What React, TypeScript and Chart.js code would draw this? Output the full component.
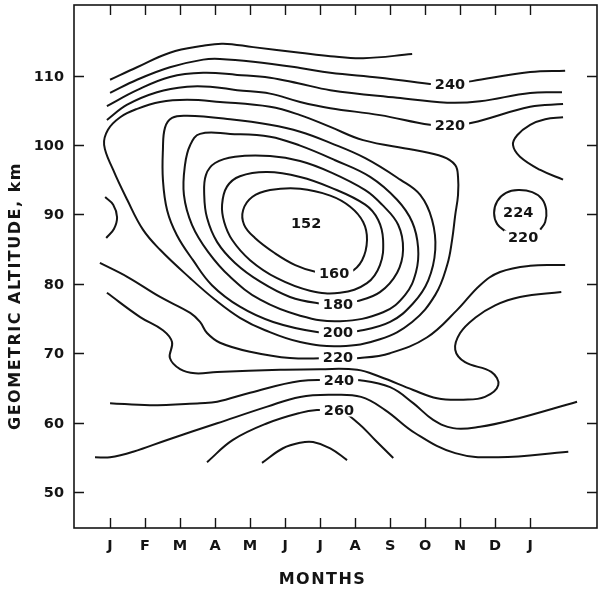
import React, { useEffect, useRef } from 'react';
import { Chart, registerables } from 'chart.js';

Chart.register(...registerables);

type Pt = [number, number];

// ---- axes ----
const MONTH_LABELS = ['J', 'F', 'M', 'A', 'M', 'J', 'J', 'A', 'S', 'O', 'N', 'D', 'J'];
const ALT_TICKS = [50, 60, 70, 80, 90, 100, 110];
const X_MIN = -1.03;
const X_MAX = 13.91;
const Y_MIN = 44.81;
const Y_MAX = 120.17;

// ---- contour lines: [month index, altitude km] ----
const T_TOP_A: Pt[] = [[0, 109.4], [0.77, 111.2], [1.71, 113.3], [2.66, 114.3], [3.23, 114.6], [4.09, 114.1], [5.43, 113.3], [6.29, 112.8], [7.23, 112.5], [8.63, 113.1]];
const T240_TOP: Pt[] = [[0, 107.5], [0.77, 109.4], [1.71, 111.2], [2.66, 112.3], [3.14, 112.4], [4.09, 112.0], [5.43, 111.1], [6.29, 110.4], [7.71, 109.7], [9.14, 108.8], [9.71, 108.7], [10.34, 109.2], [12.0, 110.5], [13.0, 110.7]];
const T_TOP_C: Pt[] = [[-0.09, 105.6], [0.77, 107.9], [1.71, 109.8], [2.66, 110.4], [3.63, 110.1], [4.57, 109.7], [5.37, 108.9], [6.29, 107.9], [8.2, 106.8], [9.63, 106.1], [10.57, 106.3], [12.0, 107.5], [12.91, 107.6]];
const T220_TOP: Pt[] = [[-0.09, 103.6], [0.49, 105.8], [1.34, 107.6], [2.2, 108.4], [2.86, 108.4], [3.63, 107.9], [4.57, 107.4], [5.43, 106.2], [6.29, 105.3], [7.71, 104.3], [9.14, 102.9], [9.71, 102.8], [10.34, 103.2], [12.0, 105.5], [12.94, 105.9]];
const T_RIGHT_TOP: Pt[] = [[12.94, 104.0], [12.43, 103.7], [12.0, 102.9], [11.63, 101.4], [11.51, 100.0], [11.71, 98.3], [12.29, 96.4], [12.94, 95.0]];
const T220_RIGHT: Pt[] = [[11.31, 87.5], [11.06, 88.6], [10.97, 90.2], [11.06, 91.9], [11.31, 93.1], [11.66, 93.5], [12.06, 93.2], [12.34, 92.2], [12.46, 90.6], [12.43, 88.9], [12.29, 87.8]];
const T_LEFT_ARC: Pt[] = [[-0.14, 92.5], [0.09, 91.4], [0.2, 89.6], [0.11, 87.9], [-0.11, 86.6]];
const T220_LOW: Pt[] = [[-0.29, 83.0], [0.49, 81.0], [1.43, 78.1], [2.29, 75.8], [2.57, 74.5], [2.77, 72.9], [3.14, 71.5], [4.0, 70.2], [5.14, 69.3], [6.51, 69.3], [7.14, 69.3], [8.0, 70.0], [9.06, 72.3], [9.91, 76.2], [10.57, 79.8], [11.14, 81.7], [12.0, 82.6], [13.0, 82.7]];
const T230_LOW: Pt[] = [[-0.09, 78.7], [0.86, 75.2], [1.51, 73.3], [1.77, 71.6], [1.71, 69.3], [2.0, 67.7], [2.43, 67.1], [3.06, 67.3], [4.86, 67.6], [6.0, 67.7], [7.06, 67.6], [7.71, 66.6], [8.66, 64.7], [9.34, 63.5], [10.09, 63.3], [10.71, 63.7], [11.09, 65.4], [10.89, 67.3], [10.14, 68.7], [9.86, 70.5], [10.0, 72.9], [10.43, 75.1], [11.0, 76.9], [11.71, 78.1], [12.89, 78.8]];
const T240_LOW: Pt[] = [[0, 62.8], [1.14, 62.5], [2.57, 62.8], [3.06, 63.0], [4.0, 64.3], [5.43, 66.0], [6.54, 66.1], [7.14, 66.1], [8.0, 65.1], [8.66, 62.8], [9.23, 60.4], [9.8, 59.2], [10.57, 59.4], [11.51, 60.4], [13.34, 63.0]];
const T250_LOW: Pt[] = [[-0.43, 55.0], [0, 55.0], [0.66, 55.8], [1.63, 57.5], [3.06, 59.9], [4.49, 62.3], [5.43, 63.7], [6.31, 64.0], [7.17, 63.7], [7.86, 61.8], [8.71, 58.5], [9.86, 55.6], [11.09, 55.0], [13.09, 55.8]];
const T260_LOW: Pt[] = [[2.77, 54.3], [3.51, 57.5], [4.49, 59.9], [5.43, 61.4], [5.91, 61.8], [6.54, 61.8], [7.09, 59.9], [7.57, 57.5], [8.09, 54.9]];
const T270_DOME: Pt[] = [[4.34, 54.2], [4.94, 56.3], [5.43, 57.1], [5.8, 57.2], [6.29, 56.3], [6.77, 54.6]];

// closed loops around the 152 K minimum
const T210_LOOP: Pt[] = [[-0.17, 100.0], [-0.06, 102.2], [0.29, 104.0], [0.77, 105.2], [1.43, 106.2], [2.2, 106.5], [3.14, 106.2], [4.57, 105.5], [5.43, 104.3], [6.29, 102.6], [7.23, 100.7], [8.66, 99.3], [9.51, 98.3], [9.86, 97.1], [9.94, 95.4], [9.94, 92.8], [9.86, 89.9], [9.77, 86.3], [9.63, 82.7], [9.29, 78.4], [8.63, 74.5], [7.71, 72.0], [6.57, 71.0], [5.43, 71.6], [4.43, 73.3], [3.71, 75.1], [3.0, 77.7], [2.29, 80.8], [1.43, 84.9], [0.94, 87.8], [0.49, 92.1], [0.09, 96.4]];
const T200_LOOP: Pt[] = [[6.51, 73.05], [7.09, 73.2], [8.0, 74.5], [8.66, 77.2], [9.09, 80.5], [9.29, 84.9], [9.2, 89.2], [8.86, 92.8], [8.29, 95.0], [7.29, 98.1], [6.29, 100.3], [5.43, 101.9], [4.57, 102.9], [3.43, 103.7], [2.2, 104.2], [1.77, 103.9], [1.57, 102.5], [1.51, 99.3], [1.51, 95.0], [1.63, 90.6], [1.91, 87.0], [2.37, 83.4], [2.91, 79.8], [3.71, 76.7], [4.66, 74.5], [5.91, 73.05]];
const T190_LOOP: Pt[] = [[6.57, 74.6], [7.8, 75.9], [8.43, 78.4], [8.74, 81.7], [8.8, 85.2], [8.63, 88.9], [8.2, 92.1], [7.43, 95.4], [6.43, 97.8], [5.43, 99.9], [4.57, 101.2], [3.43, 101.6], [2.57, 101.6], [2.29, 100.0], [2.14, 97.1], [2.11, 92.8], [2.34, 88.5], [2.8, 84.6], [3.43, 81.0], [4.29, 77.7], [5.43, 75.4]];
const T180_LOOP: Pt[] = [[6.51, 77.1], [7.06, 77.5], [7.71, 78.8], [8.2, 81.6], [8.37, 84.9], [8.23, 88.5], [7.77, 91.4], [7.29, 93.5], [6.29, 96.1], [5.43, 97.7], [4.57, 98.4], [3.57, 98.3], [3.0, 97.4], [2.74, 95.7], [2.69, 92.8], [2.77, 89.5], [3.06, 86.0], [3.57, 83.0], [4.29, 80.3], [5.14, 78.1], [5.94, 77.2]];
const T170_LOOP: Pt[] = [[6.57, 78.7], [7.34, 80.1], [7.71, 82.7], [7.8, 86.3], [7.66, 89.2], [7.29, 91.4], [6.29, 93.9], [5.43, 95.4], [4.49, 96.1], [3.71, 95.5], [3.34, 94.0], [3.2, 91.4], [3.26, 88.9], [3.49, 86.3], [4.0, 83.4], [4.77, 80.8], [5.71, 79.0]];
const T160_LOOP: Pt[] = [[6.4, 81.55], [6.86, 81.7], [7.2, 83.4], [7.34, 86.3], [7.23, 88.9], [6.86, 91.1], [6.29, 92.7], [5.43, 93.7], [4.57, 93.5], [4.06, 92.5], [3.8, 90.6], [3.83, 88.5], [4.14, 86.6], [4.71, 84.4], [5.29, 82.7], [5.89, 81.7]];

// ---- contour labels ----
const LABEL_TEXT = ['240', '220', '152', '160', '180', '200', '220', '240', '260', '224', '220'];
const LABEL_MONTH = [9.71, 9.71, 5.6, 6.4, 6.51, 6.51, 6.51, 6.54, 6.54, 11.66, 11.8];
const LABEL_ALT = [108.8, 102.9, 88.8, 81.6, 77.1, 73.05, 69.45, 66.14, 61.81, 90.34, 86.74];

const OPEN_LINES: Pt[][] = [T_TOP_A, T240_TOP, T_TOP_C, T220_TOP, T_RIGHT_TOP, T220_RIGHT, T_LEFT_ARC, T220_LOW, T230_LOW, T240_LOW, T250_LOW, T260_LOW, T270_DOME];
const CLOSED_LOOPS: Pt[][] = [T210_LOOP, T200_LOOP, T190_LOOP, T180_LOOP, T170_LOOP, T160_LOOP];

const INK = '#141414';
const LINE_W = 2;
const FONT = '"DejaVu Sans", "Liberation Sans", Arial, sans-serif';

function openDataset(pts: Pt[]) {
  return {
    data: pts.map(([x, y]) => ({ x, y })),
    showLine: true,
    borderColor: INK,
    borderWidth: LINE_W,
    pointRadius: 0,
    tension: 0.4,
    fill: false,
  };
}

function loopDataset(pts: Pt[]) {
  const n = pts.length;
  const ext = [pts[n - 1], ...pts, pts[0], pts[1]];
  const last = ext.length - 1;
  return {
    data: ext.map(([x, y]) => ({ x, y })),
    showLine: true,
    borderColor: INK,
    borderWidth: LINE_W,
    pointRadius: 0,
    tension: 0.4,
    fill: false,
    segment: {
      borderColor: (c: any) => (c.p0DataIndex === 0 || c.p1DataIndex === last ? 'rgba(0,0,0,0)' : INK),
    },
  };
}

const decor = {
  id: 'decor',
  afterDatasetsDraw(chart: any) {
    const { ctx, scales } = chart;
    const xs = scales.x;
    const ys = scales.y;
    ctx.save();
    ctx.font = `bold 14.5px ${FONT}`;
    ctx.textAlign = 'center';
    ctx.textBaseline = 'alphabetic';
    LABEL_TEXT.forEach((t, i) => {
      const px = xs.getPixelForValue(LABEL_MONTH[i]);
      const py = ys.getPixelForValue(LABEL_ALT[i]);
      const w = ctx.measureText(t).width;
      ctx.fillStyle = '#ffffff';
      ctx.fillRect(px - w / 2 - 4, py - 6.5, w + 8, 13);
      ctx.fillStyle = INK;
      ctx.fillText(t, px, py + 5);
    });
    ctx.restore();
  },
  afterDraw(chart: any) {
    const { ctx, chartArea, scales } = chart;
    const { left, right, top, bottom } = chartArea;
    const xs = scales.x;
    const ys = scales.y;
    ctx.save();
    ctx.strokeStyle = INK;
    ctx.lineWidth = 1.6;
    ctx.strokeRect(left, top, right - left, bottom - top);
    ctx.lineWidth = 1.4;
    ctx.beginPath();
    MONTH_LABELS.forEach((_, i) => {
      const px = Math.round(xs.getPixelForValue(i)) + 0.5;
      ctx.moveTo(px, bottom);
      ctx.lineTo(px, bottom - 10);
      ctx.moveTo(px, top);
      ctx.lineTo(px, top + 10);
    });
    ALT_TICKS.forEach((v) => {
      const py = Math.round(ys.getPixelForValue(v)) + 0.5;
      ctx.moveTo(left, py);
      ctx.lineTo(left + 10, py);
      ctx.moveTo(right, py);
      ctx.lineTo(right - 10, py);
    });
    ctx.stroke();

    ctx.fillStyle = INK;
    ctx.font = `bold 14.5px ${FONT}`;
    ctx.textAlign = 'center';
    ctx.textBaseline = 'alphabetic';
    MONTH_LABELS.forEach((m, i) => {
      ctx.fillText(m, xs.getPixelForValue(i), bottom + 22);
    });
    ctx.textAlign = 'right';
    ALT_TICKS.forEach((v) => {
      ctx.fillText(String(v), left - 10, ys.getPixelForValue(v) + 5);
    });

    // axis titles
    ctx.textAlign = 'center';
    ctx.textBaseline = 'middle';
    ctx.font = `bold 16px ${FONT}`;
    (ctx as any).letterSpacing = '1.5px';
    ctx.fillText('MONTHS', (left + right) / 2 - 13, 580);
    ctx.save();
    ctx.translate(16, 296);
    ctx.rotate(-Math.PI / 2);
    (ctx as any).letterSpacing = '1.5px';
    ctx.fillText('GEOMETRIC ALTITUDE, km', 0, 0);
    ctx.restore();
    ctx.restore();
  },
};

export default function App() {
  const ref = useRef<HTMLCanvasElement | null>(null);
  useEffect(() => {
    document.body.style.margin = '0';
    const canvas = ref.current;
    if (!canvas) return;
    const datasets: any[] = [
      ...OPEN_LINES.map(openDataset),
      ...CLOSED_LOOPS.map(loopDataset),
    ];
    const chart = new Chart(canvas, {
      type: 'scatter',
      data: { datasets },
      options: {
        responsive: false,
        animation: false,
        devicePixelRatio: 1,
        layout: { padding: { left: 74, right: 1, top: 5, bottom: 64 } },
        plugins: { legend: { display: false }, tooltip: { enabled: false } },
        elements: { line: { capBezierPoints: true } },
        scales: {
          x: { type: 'linear', min: X_MIN, max: X_MAX, display: false },
          y: { type: 'linear', min: Y_MIN, max: Y_MAX, display: false },
        },
      },
      plugins: [decor],
    });
    return () => chart.destroy();
  }, []);
  return (
    <div style={{ width: 598, height: 592, background: '#fff' }}>
      <canvas ref={ref} width={598} height={592} style={{ display: 'block' }} />
    </div>
  );
}
